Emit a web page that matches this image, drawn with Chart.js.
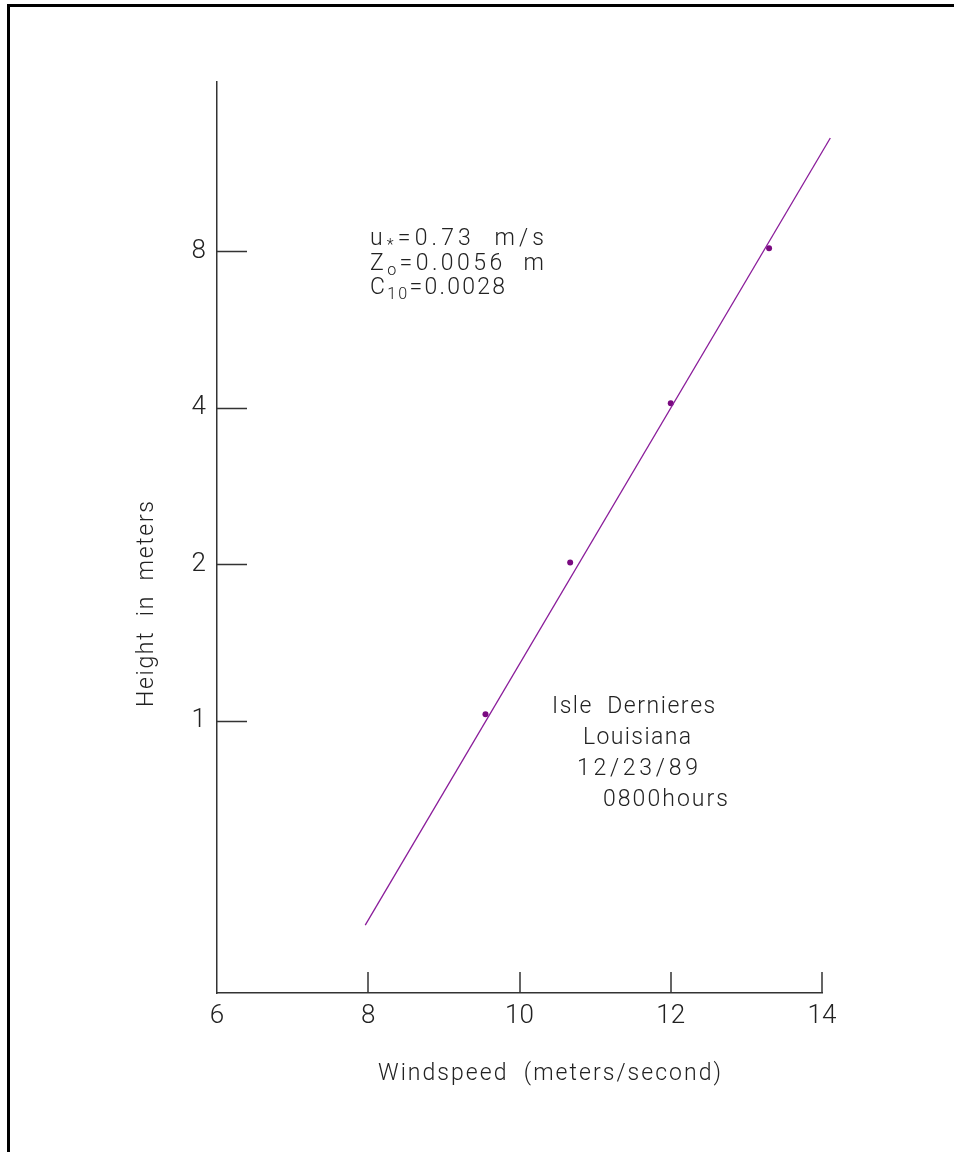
<!DOCTYPE html>
<html>
<head>
<meta charset="utf-8">
<script src="https://cdn.jsdelivr.net/npm/chart.js@4.4.1/dist/chart.umd.min.js"></script>
<style>
  html, body { margin: 0; padding: 0; background: #fff; }
  canvas { display: block; }
</style>
</head>
<body>
<canvas id="c" width="954" height="1152"></canvas>
<script>
// ---- data ----
const windSpeed = [9.55, 10.67, 12.0, 13.3];      // m/s (observed)
const heightM   = [1.03, 2.015, 4.08, 8.1];        // m
const fitSpeed  = [7.96, 14.11];                   // log-profile fit line ends
const fitHeight = [0.405, 13.19];
const xTickValues = [6, 8, 10, 12, 14];
const yTickValues = [1, 2, 4, 8];
const xTitle = 'Windspeed  (meters/second)';
const yTitle = 'Height  in  meters';
const statsLines = [
  [{t:'u', sub:false}, {t:'*', sub:true}, {t:'=0.73  m/s', sub:false}],
  [{t:'Z', sub:false}, {t:'o', sub:true}, {t:'=0.0056  m', sub:false}],
  [{t:'C', sub:false}, {t:'10', sub:true}, {t:'=0.0028', sub:false}]
];
const siteLines = ['Isle  Dernieres', 'Louisiana', '12/23/89', '0800hours'];

const FONT = 'Roboto, "DejaVu Sans", sans-serif';
const TXT = '#222';
const LINE = '#8a1c9a';
const PT = '#7a0a80';

function drawFit(ctx, segs, x, y, width, size) {
  let natural = 0, n = 0;
  ctx.letterSpacing = '0px';
  segs.forEach(s => {
    ctx.font = `300 ${s.sub ? size * 0.7 : size}px ${FONT}`;
    natural += ctx.measureText(s.t).width;
    n += s.t.length;
  });
  const ls = n > 1 ? (width - natural) / (n - 1) : 0;
  let cx = x;
  segs.forEach(s => {
    const fs = s.sub ? size * 0.7 : size;
    ctx.font = `300 ${fs}px ${FONT}`;
    for (const ch of s.t) {
      ctx.fillText(ch, cx, y + (s.sub ? size * 0.22 : 0));
      cx += ctx.measureText(ch).width + ls;
    }
  });
}

const decor = {
  id: 'decor',
  afterDraw(chart) {
    const ctx = chart.ctx;
    const xs = chart.scales.x, ys = chart.scales.y;
    const area = chart.chartArea;
    ctx.save();
    // frame
    ctx.fillStyle = '#000';
    ctx.fillRect(7, 4, 954 - 7, 3);
    ctx.fillRect(7, 4, 3, 1152 - 4);
    // inward ticks
    ctx.strokeStyle = '#333';
    ctx.lineWidth = 1.5;
    ctx.beginPath();
    yTickValues.forEach(v => {
      const py = Math.round(ys.getPixelForValue(v)) + 0.5;
      ctx.moveTo(area.left, py); ctx.lineTo(area.left + 30, py);
    });
    xTickValues.slice(1).forEach(v => {
      const px = Math.round(xs.getPixelForValue(v));
      ctx.moveTo(px, area.bottom); ctx.lineTo(px, area.bottom - 21);
    });
    ctx.stroke();
    // texts
    ctx.fillStyle = TXT;
    ctx.textBaseline = 'alphabetic';
    ctx.textAlign = 'left';
    drawFit(ctx, [{t:xTitle}], 378, 1080, 343, 23);
    ctx.save();
    ctx.translate(153, 707);
    ctx.rotate(-Math.PI / 2);
    drawFit(ctx, [{t:yTitle}], 0, 0, 206, 23);
    ctx.restore();
    const statW = [174, 174, 135];
    const statY = [245, 270, 294];
    statsLines.forEach((segs, i) => drawFit(ctx, segs, 370, statY[i], statW[i], 23));
    const siteX = [552, 583, 577, 603];
    const siteW = [163, 108, 121, 125];
    const siteY = [713, 744, 775, 806];
    siteLines.forEach((t, i) => drawFit(ctx, [{t}], siteX[i], siteY[i], siteW[i], 23));
    ctx.restore();
  }
};

new Chart(document.getElementById('c'), {
  type: 'scatter',
  data: {
    datasets: [
      {
        data: fitSpeed.map((x, i) => ({x, y: fitHeight[i]})),
        showLine: true,
        borderColor: LINE,
        borderWidth: 1.3,
        pointRadius: 0,
        clip: false
      },
      {
        data: windSpeed.map((x, i) => ({x, y: heightM[i]})),
        showLine: false,
        pointRadius: 3,
        pointBackgroundColor: PT,
        pointBorderColor: PT,
        pointBorderWidth: 0
      }
    ]
  },
  options: {
    responsive: false,
    animation: false,
    devicePixelRatio: 1,
    layout: { padding: { left: 0, top: 82, right: 132, bottom: 0 } },
    plugins: { legend: { display: false }, tooltip: { enabled: false } },
    scales: {
      x: {
        type: 'linear',
        min: 6, max: 14,
        afterBuildTicks: s => { s.ticks = xTickValues.map(v => ({value: v})); },
        afterFit: s => { s.height = 1152 - 993; },
        grid: { display: true, color: 'transparent', drawTicks: false },
        border: { display: true, color: '#333', width: 1.5 },
        ticks: {
          padding: 8, maxRotation: 0, autoSkip: false,
          color: TXT,
          font: { family: FONT, size: 26, weight: '300' },
          callback: v => String(v)
        }
      },
      y: {
        type: 'logarithmic',
        min: 0.3, max: 16.9,
        afterBuildTicks: s => { s.ticks = yTickValues.map(v => ({value: v})); },
        afterFit: s => { s.width = 217; },
        grid: { display: true, color: 'transparent', drawTicks: false },
        border: { display: true, color: '#333', width: 1.5 },
        ticks: {
          padding: 11, autoSkip: false,
          color: TXT,
          font: { family: FONT, size: 26, weight: '300' },
          callback: v => String(v)
        }
      }
    }
  },
  plugins: [decor]
});
</script>
</body>
</html>
